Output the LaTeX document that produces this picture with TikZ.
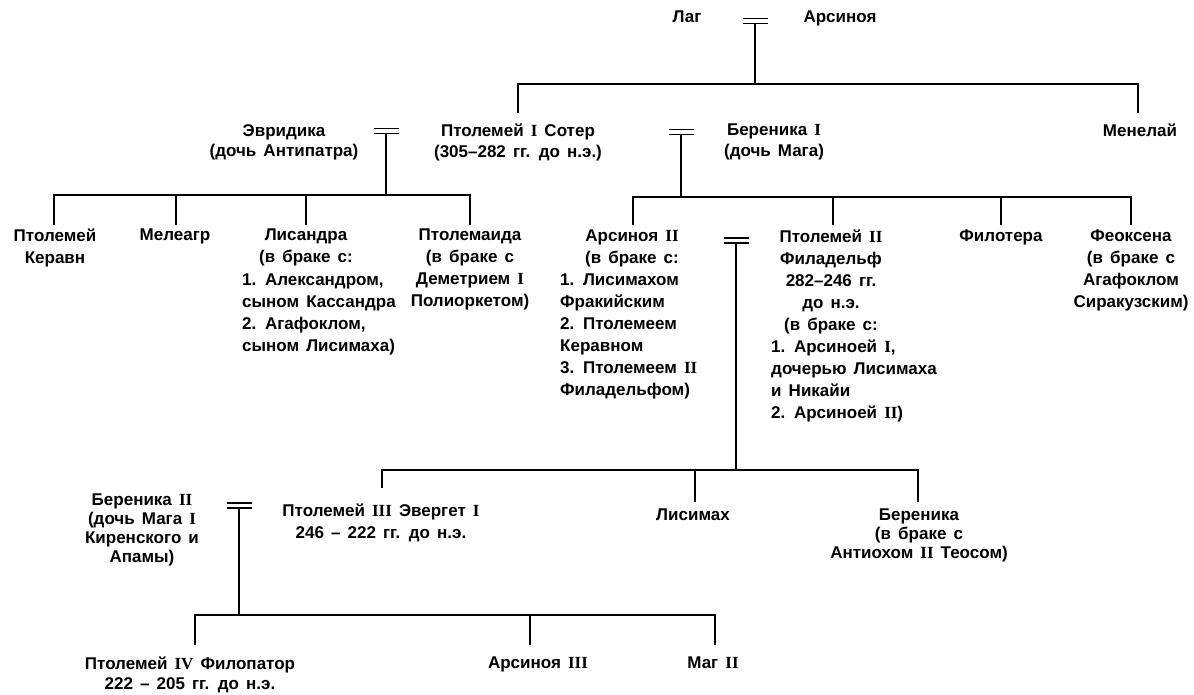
\documentclass[tikz,border=0pt]{standalone}
\usepackage{fontspec}
\setmainfont{Liberation Sans}[WordSpace=1.5]
\newfontfamily\serifnum{Liberation Serif}
\newcommand\rnum[1]{{\serifnum\bfseries #1}}
\newcommand\fsA{\fontsize{17}{22}\selectfont\bfseries}
\newcommand\fsB{\fontsize{17}{20.5}\selectfont\bfseries}
\newcommand\fsC{\fontsize{17}{19}\selectfont\bfseries}
\newcommand\fsD{\fontsize{17}{21.5}\selectfont\bfseries}
\newcommand\fsE{\fontsize{17}{19.5}\selectfont\bfseries}
\begin{document}
\begin{tikzpicture}[x=1pt,y=-1pt,
  every node/.style={inner sep=0pt},
  n/.style={anchor=north, align=center, font=\fsA},
  nl/.style={anchor=north west, align=left, font=\fsA},
  nb/.style={anchor=north, align=center, font=\fsB},
  nc/.style={anchor=north, align=center, font=\fsC},
  nd/.style={anchor=north, align=center, font=\fsD},
  ne/.style={anchor=north, align=center, font=\fsE},
  tree/.style={line width=1.8pt},
  marriage/.pic={
    \draw[line width=1.5pt] (-12.5,-2.5) -- (12.5,-2.5) (-12.5,2.5) -- (12.5,2.5);
    \coordinate (-b) at (0,2.5);
  }]
\useasboundingbox (0,0) rectangle (1194,694);

% generation 0
\node[n] (lag) at (687,11) {Лаг};
\node[n] (ars) at (840,11) {Арсиноя};
\pic (m0) at (755,21) {marriage};

% generation 1 couples
\node[nb] (evr) at (284,124) {Эвридика\\(дочь Антипатра)};
\pic (m1) at (386,131) {marriage};
\node[nb] (pt1) at (518,124) {Птолемей \rnum{I} Сотер\\(305–282 гг. до н.э.)};
\pic (m2) at (681,132) {marriage};
\node[nb] (ber1) at (774,124) {Береника \rnum{I}\\(дочь Мага)};
\node[n] (men) at (1140,124) {Менелай};

% children of Eurydice
\node[n] (ker) at (55,229) {Птолемей\\Керавн};
\node[n] (mel) at (175,229) {Мелеагр};
\node[n] (lisH) at (306,229) {Лисандра\\(в браке с:};
\node[nl] (lisL) at (242,274) {1. Александром,\\сыном Кассандра\\2. Агафоклом,\\сыном Лисимаха)};
\node[n] (ptm) at (470,229) {Птолемаида\\(в браке с\\Деметрием \rnum{I}\\Полиоркетом)};

% children of Berenike I
\node[n] (ar2H) at (632,230) {Арсиноя \rnum{II}\\(в браке с:};
\node[nl] (ar2L) at (560,274) {1. Лисимахом\\Фракийским\\2. Птолемеем\\Керавном\\3. Птолемеем \rnum{II}\\Филадельфом)};
\pic (m3) at (736,240.5) {marriage};
\node[n] (pt2H) at (831,230) {Птолемей \rnum{II}\\Филадельф\\282–246 гг.\\до н.э.\\(в браке с:};
\node[nl] (pt2L) at (771,340) {1. Арсиноей \rnum{I},\\дочерью Лисимаха\\и Никайи\\2. Арсиноей \rnum{II})};
\node[n] (fil) at (1001,230) {Филотера};
\node[n] (feo) at (1131,230) {Феоксена\\(в браке с\\Агафоклом\\Сиракузским)};

% generation 2
\node[nc] (ber2) at (142,494) {Береника \rnum{II}\\(дочь Мага \rnum{I}\\Киренского и\\Апамы)};
\pic (m4) at (239,505.5) {marriage};
\node[nd] (pt3) at (381,504) {Птолемей \rnum{III} Эвергет \rnum{I}\\246 – 222 гг. до н.э.};
\node[n] (lism) at (693,509) {Лисимах};
\node[nc] (berA) at (919,509) {Береника\\(в браке с\\Антиохом \rnum{II} Теосом)};

% generation 3
\node[ne] (pt4) at (190,657) {Птолемей \rnum{IV} Филопатор\\222 – 205 гг. до н.э.};
\node[n] (ar3) at (538,657) {Арсиноя \rnum{III}};
\node[n] (mag2) at (713,657) {Маг \rnum{II}};

% bar levels
\coordinate (bA) at (0,84);
\coordinate (bL) at (0,195);
\coordinate (bR) at (0,197);
\coordinate (bG2) at (0,470);
\coordinate (bG3) at (0,615);

% drop points
\coordinate (d-pt1) at (518,113);
\coordinate (d-men) at (1138,113);
\coordinate (d-ker) at (54,225);
\coordinate (d-mel) at (176,225);
\coordinate (d-lis) at (306,225);
\coordinate (d-ptm) at (470,225);
\coordinate (d-ar2) at (633,225);
\coordinate (d-pt2) at (833,225);
\coordinate (d-fil) at (1001,225);
\coordinate (d-feo) at (1131,225);
\coordinate (d-pt3) at (382,488);
\coordinate (d-lism) at (695,502);
\coordinate (d-berA) at (918,502);
\coordinate (d-pt4) at (195,645);
\coordinate (d-ar3) at (530,645);
\coordinate (d-mag2) at (715,645);

% Lag = Arsinoe
\draw[tree] (m0-b) -- (m0-b |- bA);
\draw[tree] (d-pt1) -- (d-pt1 |- bA) -- (d-men |- bA) -- (d-men);

% Eurydice = Ptolemy I
\draw[tree] (m1-b) -- (m1-b |- bL);
\draw[tree] (d-ker) -- (d-ker |- bL) -- (d-ptm |- bL) -- (d-ptm);
\draw[tree] (d-mel) -- (d-mel |- bL);
\draw[tree] (d-lis) -- (d-lis |- bL);

% Ptolemy I = Berenike I
\draw[tree] (m2-b) -- (m2-b |- bR);
\draw[tree] (d-ar2) -- (d-ar2 |- bR) -- (d-feo |- bR) -- (d-feo);
\draw[tree] (d-pt2) -- (d-pt2 |- bR);
\draw[tree] (d-fil) -- (d-fil |- bR);

% Arsinoe II = Ptolemy II
\draw[tree] (m3-b) -- (m3-b |- bG2);
\draw[tree] (d-pt3) -- (d-pt3 |- bG2) -- (d-berA |- bG2) -- (d-berA);
\draw[tree] (d-lism) -- (d-lism |- bG2);

% Berenike II = Ptolemy III
\draw[tree] (m4-b) -- (m4-b |- bG3);
\draw[tree] (d-pt4) -- (d-pt4 |- bG3) -- (d-mag2 |- bG3) -- (d-mag2);
\draw[tree] (d-ar3) -- (d-ar3 |- bG3);
\end{tikzpicture}
\end{document}
